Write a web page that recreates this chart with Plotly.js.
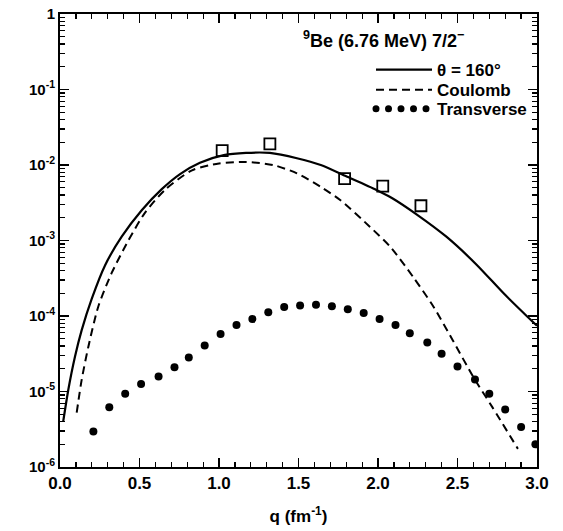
<!DOCTYPE html>
<html>
<head>
<meta charset="utf-8">
<script src="https://cdn.plot.ly/plotly-3.0.1.min.js"></script>
<style>
html,body{margin:0;padding:0;background:#fff;}
#chart{width:563px;height:531px;}
.legend3 .legendlines path, .legend3 path.js-line {stroke-linecap: round !important;}
</style>
</head>
<body>
<div id="chart"></div>
<script>
// θ = 160° total (solid)
const qTotal = [0.02, 0.052, 0.094, 0.136, 0.2, 0.283, 0.388, 0.514, 0.64, 0.755, 0.88, 1.03, 1.17, 1.32, 1.49, 1.64, 1.80, 1.99, 2.09, 2.24, 2.43, 2.62, 2.79, 2.94, 3.0];
const logTotal = [-5.4, -4.98, -4.54, -4.19, -3.77, -3.33, -2.95, -2.60, -2.32, -2.12, -1.97, -1.87, -1.84, -1.84, -1.91, -2.0, -2.15, -2.33, -2.44, -2.65, -2.95, -3.32, -3.70, -4.01, -4.13];
// Coulomb (dashed)
const qCoul = [0.105, 0.136, 0.178, 0.24, 0.325, 0.43, 0.535, 0.66, 0.83, 1.0, 1.17, 1.34, 1.49, 1.64, 1.76, 1.95, 2.08, 2.22, 2.35, 2.47, 2.60, 2.72, 2.88];
const logCoul = [-5.28, -4.85, -4.41, -3.88, -3.43, -3.0, -2.63, -2.33, -2.07, -1.98, -1.96, -2.0, -2.11, -2.29, -2.46, -2.82, -3.09, -3.48, -3.88, -4.32, -4.81, -5.21, -5.76];
// Transverse (dots)
const qTrans = [0.21, 0.31, 0.41, 0.51, 0.62, 0.72, 0.81, 0.91, 1.01, 1.11, 1.21, 1.31, 1.41, 1.51, 1.61, 1.71, 1.81, 1.91, 2.01, 2.11, 2.20, 2.31, 2.40, 2.50, 2.61, 2.70, 2.80, 2.90, 2.99];
const logTrans = [-5.53, -5.21, -5.03, -4.90, -4.80, -4.68, -4.55, -4.39, -4.24, -4.12, -4.04, -3.95, -3.88, -3.86, -3.85, -3.87, -3.91, -3.96, -4.04, -4.12, -4.23, -4.35, -4.50, -4.67, -4.84, -5.03, -5.24, -5.47, -5.70];
// Experimental data (squares)
const qData = [1.02, 1.32, 1.79, 2.03, 2.27];
const logData = [-1.81, -1.72, -2.18, -2.28, -2.54];

const seriesNames = ['θ = 160°', 'Coulomb', 'Transverse'];
const yTickVals = [1e-6, 1e-5, 1e-4, 1e-3, 1e-2, 1e-1, 1];
const yTickText = ['10<sup>-6</sup>', '10<sup>-5</sup>', '10<sup>-4</sup>', '10<sup>-3</sup>', '10<sup>-2</sup>', '10<sup>-1</sup>', '1'];
const minorMultipliers = [2, 3, 4, 5, 6, 7, 8, 9];

const pow = a => a.map(v => Math.pow(10, v));
const yMinor = [];
for (let d = -6; d < 0; d++) minorMultipliers.forEach(k => yMinor.push(k * Math.pow(10, d)));

const F = 'Liberation Sans, Arial, sans-serif';
const legFont = {size: 17, family: F, weight: 'bold', color: '#000'};

const traces = [
  {x: qTotal, y: pow(logTotal), mode: 'lines', name: seriesNames[0], legend: 'legend', line: {color: '#000', width: 2.2, shape: 'spline', smoothing: 0.7}},
  {x: qCoul, y: pow(logCoul), mode: 'lines', name: seriesNames[1], legend: 'legend2', line: {color: '#000', width: 2, dash: '8px,5px', shape: 'spline', smoothing: 0.7}},
  {x: qTrans, y: pow(logTrans), mode: 'markers', name: seriesNames[2], showlegend: false, marker: {color: '#000', size: 8}},
  {x: [null], y: [null], mode: 'lines', name: seriesNames[2], legend: 'legend3', line: {color: '#000', width: 7, dash: '0px,12.5px'}},
  {x: qData, y: pow(logData), mode: 'markers', showlegend: false, marker: {symbol: 'square-open', color: '#000', size: 11, line: {width: 1.8}}},
  {x: [null], y: [null], yaxis: 'y2', mode: 'lines', showlegend: false, hoverinfo: 'skip'}
];

const legBase = {xanchor: 'left', yanchor: 'middle', bgcolor: 'rgba(0,0,0,0)', font: legFont, itemwidth: 56, borderwidth: 0};

const layout = {
  width: 563, height: 531,
  margin: {l: 60, r: 26, t: 14, b: 64},
  paper_bgcolor: '#fff', plot_bgcolor: '#fff',
  font: {family: F, color: '#000', size: 15, weight: 'bold'},
  showlegend: true,
  legend: Object.assign({}, legBase, {x: 0.652, y: 0.876}),
  legend2: Object.assign({}, legBase, {x: 0.652, y: 0.832}),
  legend3: Object.assign({}, legBase, {x: 0.652, y: 0.790}),
  xaxis: {
    range: [0, 3], dtick: 0.5, tick0: 0, tickformat: '.1f',
    ticks: 'inside', ticklen: 9, tickwidth: 1.5, tickcolor: '#000',
    showline: true, linecolor: '#000', linewidth: 2, mirror: 'ticks',
    showgrid: false, zeroline: false,
    minor: {dtick: 0.1, tick0: 0, ticks: 'inside', ticklen: 5, tickcolor: '#000', tickwidth: 1.2, showgrid: false},
    tickfont: {size: 17, family: F, weight: 'bold'},
    title: {text: 'q (fm<sup>-1</sup>)', font: {size: 17, family: F, weight: 'bold'}, standoff: 18}
  },
  yaxis: {
    type: 'log', range: [-6, 0],
    tickvals: yTickVals, ticktext: yTickText,
    ticks: 'inside', ticklen: 9, tickwidth: 1.5, tickcolor: '#000',
    showline: true, linecolor: '#000', linewidth: 2, mirror: 'ticks',
    showgrid: false, zeroline: false,
    tickfont: {size: 15, family: F, weight: 'bold'}
  },
  yaxis2: {
    type: 'log', range: [-6, 0], overlaying: 'y', side: 'left',
    tickvals: yMinor, ticktext: yMinor.map(() => ''), showticklabels: false,
    ticks: 'inside', ticklen: 5, tickwidth: 1.2, tickcolor: '#000',
    showline: false, mirror: 'allticks', showgrid: false, zeroline: false
  },
  annotations: [
    {xref: 'paper', yref: 'paper', x: (383 - 60) / 477, y: (467 - 40) / 453, xanchor: 'center', yanchor: 'middle', showarrow: false,
     text: '<sup>9</sup>Be (6.76 MeV) 7/2<sup>−</sup>', font: {size: 18, family: F, weight: 'bold'}}
  ]
};

Plotly.newPlot('chart', traces, layout, {displayModeBar: false, staticPlot: true});
</script>
</body>
</html>
